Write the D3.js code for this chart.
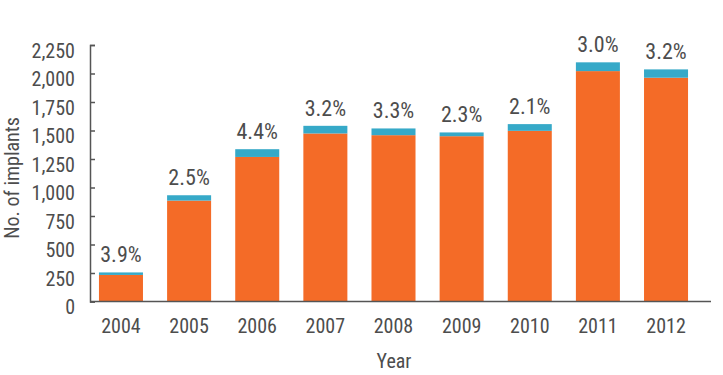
<!DOCTYPE html>
<html><head><meta charset="utf-8">
<script src="https://cdn.jsdelivr.net/npm/d3@7"></script>
<style>
body{margin:0;background:#fff;}
text{font-family:"Liberation Sans Narrow","Roboto Condensed","Roboto",sans-serif;fill:#4d4d4d;}
</style></head>
<body><svg id="c" width="723" height="375"></svg>
<script>
const years = ["2004","2005","2006","2007","2008","2009","2010","2011","2012"];
const primary = [233, 885, 1268, 1474, 1459, 1450, 1497, 2021, 1963];
const revision = [22, 47, 68, 67, 59, 33, 59, 77, 73];
const pctLabels = ["3.9%","2.5%","4.4%","3.2%","3.3%","2.3%","2.1%","3.0%","3.2%"];
const yTicks = [0,250,500,750,1000,1250,1500,1750,2000,2250];

const FONT = '"Liberation Sans Narrow","Roboto Condensed",Roboto,sans-serif';
const svg = d3.select("#c");
const axisX = 90, baseY = 301.5, topY = 45, rightX = 711;
const y = d3.scaleLinear().domain([0,2250]).range([baseY, topY]);
const x = d3.scaleBand().domain(years).range([86.9, 700.1]).paddingInner(0.354).paddingOuter(0.177);

const data = years.map((yr,i)=>({yr, p:primary[i], r:revision[i], lab:pctLabels[i]}));

// bars
const g = svg.append("g");
g.selectAll("rect.p").data(data).join("rect").attr("class","p")
  .attr("x",d=>x(d.yr)).attr("width",x.bandwidth())
  .attr("y",d=>y(d.p)).attr("height",d=>y(0)-y(d.p)).attr("fill","#f46b27");
g.selectAll("rect.r").data(data).join("rect").attr("class","r")
  .attr("x",d=>x(d.yr)).attr("width",x.bandwidth())
  .attr("y",d=>y(d.p+d.r)).attr("height",d=>y(d.p)-y(d.p+d.r)).attr("fill","#36a9c8");
g.selectAll("text.pct").data(data).join("text").attr("class","pct")
  .attr("x",d=>x(d.yr)+x.bandwidth()/2).attr("y",d=>y(d.p+d.r)-10)
  .attr("text-anchor","middle").attr("font-size",22).text(d=>d.lab);

// y axis
const ya = svg.append("g").attr("transform",`translate(${axisX},0)`)
  .call(d3.axisLeft(y).tickValues(yTicks).tickFormat(d3.format(",")).tickSizeInner(-5).tickSizeOuter(-5).tickPadding(15));
ya.selectAll("path,line").attr("stroke","#555").attr("stroke-width",1.5);
ya.selectAll("text").attr("font-size",20).attr("dy","0.62em").style("fill","#4d4d4d").style("font-family",FONT);

// x axis
const xa = svg.append("g").attr("transform",`translate(0,${baseY})`)
  .call(d3.axisBottom(x).tickSize(0).tickPadding(19));
xa.select("path").attr("d",`M${axisX},0H${rightX}`).attr("stroke","#555").attr("stroke-width",1.5);
xa.selectAll("text").attr("font-size",20).attr("dy","0.6em").style("fill","#4d4d4d").style("font-family",FONT);

// axis titles
svg.append("text").attr("x",394).attr("y",368).attr("text-anchor","middle").attr("font-size",20).text("Year");
svg.append("text").attr("transform","translate(19,178) rotate(-90)").attr("text-anchor","middle").attr("font-size",20).text("No. of implants");
</script></body></html>
